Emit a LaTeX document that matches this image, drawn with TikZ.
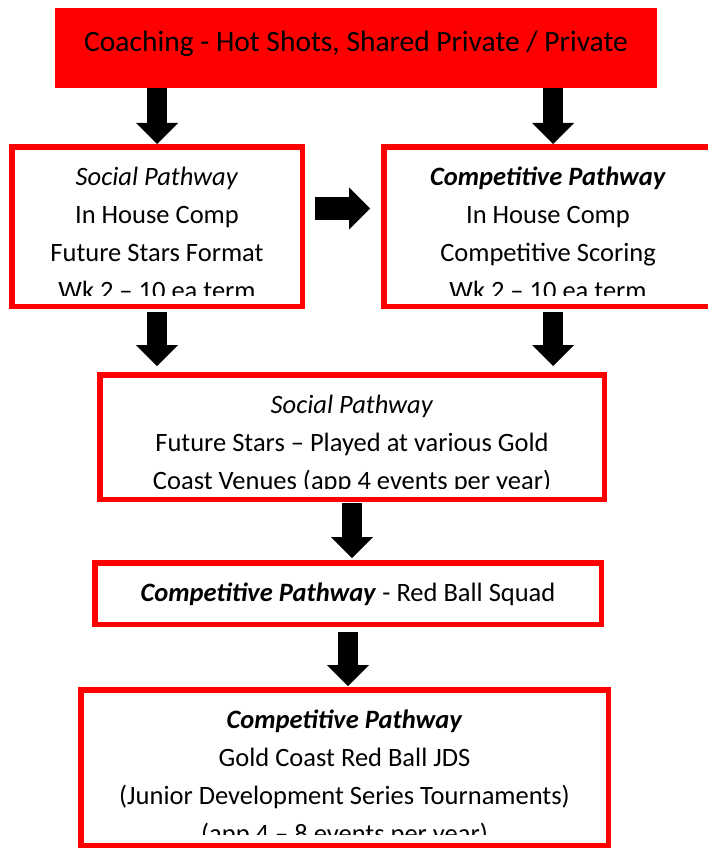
\documentclass[tikz,border=0pt]{standalone}
\usepackage{fontspec}
\setmainfont{Carlito}
\usetikzlibrary{arrows.meta}

\begin{document}
\begin{tikzpicture}[x=1pt, y=-1pt,
    boxtext/.style={text=black, inner sep=0pt, font=\fontsize{26.5}{38}\selectfont},
    flowbox/.style={draw=red, line width=5.5pt, inner sep=0pt,
        path picture={
            \clip ([yshift=11pt]path picture bounding box.south west) rectangle (path picture bounding box.north east);
            \node[boxtext, anchor=base] at ([yshift=-38.25pt]path picture bounding box.north)
                {\begin{tabular}[t]{@{}c@{}}#1\end{tabular}};
        }},
    coachbox/.style={fill=red, minimum width=602pt, minimum height=80pt, inner sep=0pt,
        text height=20pt, text depth=12pt, font=\fontsize{29.5}{38}\selectfont},
    blockarrow/.style={line width=20pt, -{Triangle[width=42pt, length=21pt, line width=0pt]}}]
            \useasboundingbox (0, 0) rectangle (708, 848);
            \node[coachbox] (coach) at (356, 48) {Coaching - Hot Shots, Shared Private / Private};
            \node[flowbox={\textit{Social Pathway}\\In House Comp\\Future Stars Format\\Wk 2 – 10 ea term},
                minimum width=290.5pt, minimum height=159.5pt] (social) at (157, 226.5) {};
            \node[flowbox={\textbf{\textit{Competitive Pathway}}\\In House Comp\\Competitive Scoring\\Wk 2 – 10 ea term},
                minimum width=328.5pt, minimum height=159.5pt] (comp) at (548, 226.5) {};
            \node[flowbox={\textit{Social Pathway}\\Future Stars – Played at various Gold\\Coast Venues (app 4 events per year)},
                minimum width=504.5pt, minimum height=124.5pt] (mid) at (352, 437) {};
            \node[flowbox={\textbf{\textit{Competitive Pathway}} - Red Ball Squad},
                minimum width=506.5pt, minimum height=61.5pt] (squad) at (348, 593.5) {};
            \node[flowbox={\textbf{\textit{Competitive Pathway}}\\Gold Coast Red Ball JDS\\(Junior Development Series Tournaments)\\(app 4 – 8 events per year)},
                minimum width=527.5pt, minimum height=155.5pt] (jds) at (344.5, 767.5) {};
            \draw[blockarrow] (coach.south -| social.north) -- (social.north);
            \draw[blockarrow] ([xshift=5pt]coach.south -| comp.north) -- ([xshift=5pt]comp.north);
            \draw[blockarrow, line width=23pt, shorten <=10pt, shorten >=11pt] ([yshift=18pt]social.east) -- ([yshift=18pt]social.east -| comp.west);
            \draw[blockarrow, shorten <=3pt, shorten >=6pt] (social.south) -- (social.south |- mid.north);
            \draw[blockarrow, shorten <=3pt, shorten >=6pt] ([xshift=5pt]comp.south) -- ([xshift=5pt]comp.south |- mid.north);
            \draw[blockarrow, shorten <=1pt, shorten >=2pt] (mid.south) -- (mid.south |- squad.north);
            \draw[blockarrow, shorten <=5pt, shorten >=1pt] (squad.south) -- (squad.south |- jds.north);
        \end{tikzpicture}
\end{document}
